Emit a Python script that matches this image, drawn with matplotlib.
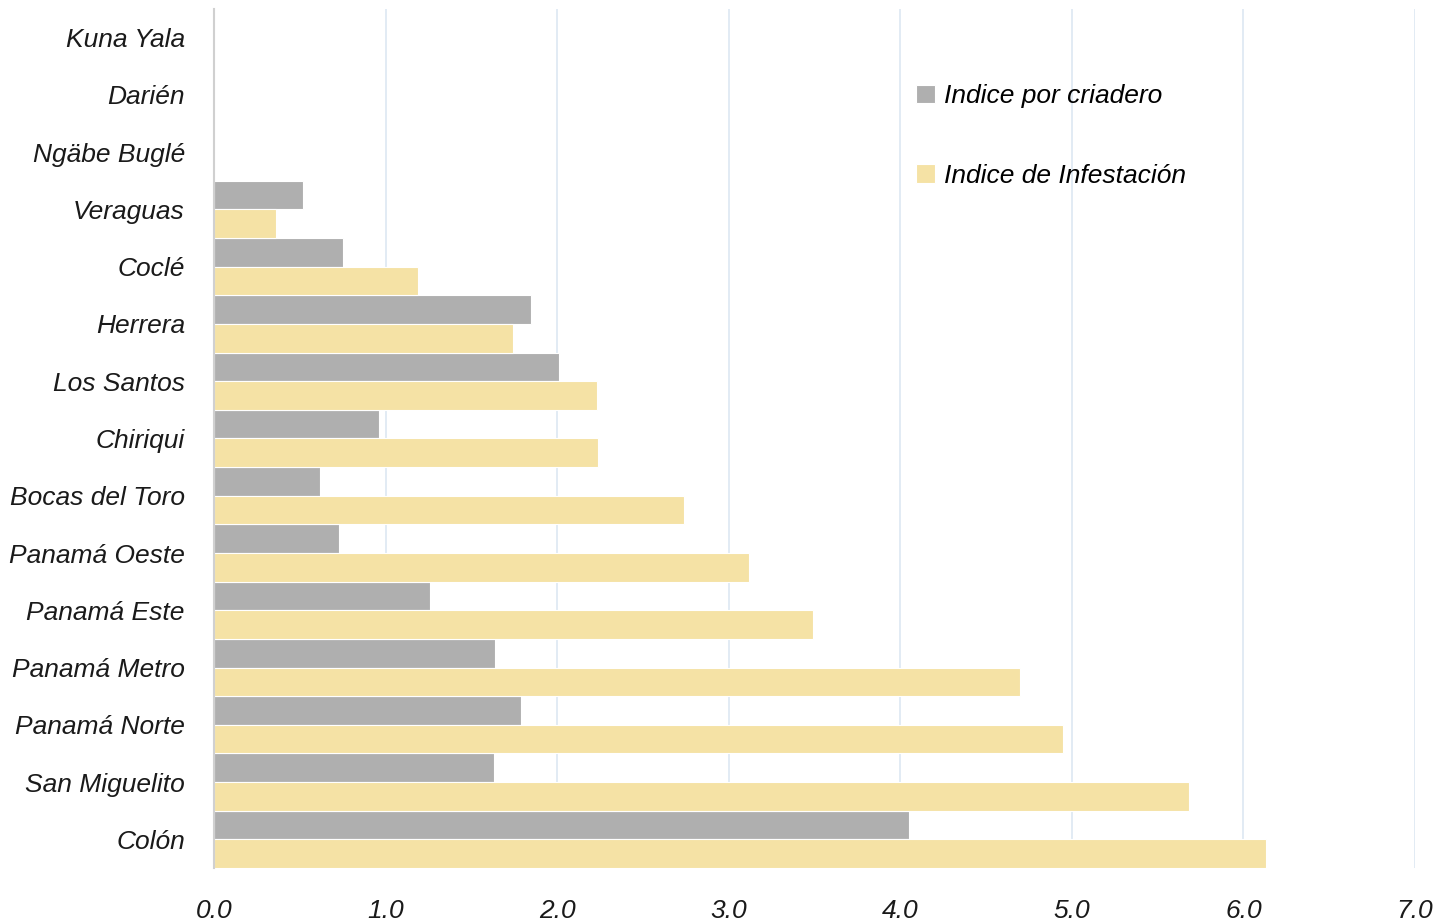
import matplotlib
matplotlib.use("Agg")
import matplotlib.pyplot as plt
from matplotlib import font_manager
import numpy as np

categories = ["Kuna Yala", "Darién", "Ngäbe Buglé", "Veraguas", "Coclé", "Herrera",
              "Los Santos", "Chiriqui", "Bocas del Toro", "Panamá Oeste", "Panamá Este",
              "Panamá Metro", "Panamá Norte", "San Miguelito", "Colón"]
indice_criadero = [0, 0, 0, 0.52, 0.75, 1.85, 2.01, 0.96, 0.62, 0.73, 1.26, 1.64, 1.79, 1.63, 4.05]
indice_infestacion = [0, 0, 0, 0.36, 1.19, 1.74, 2.23, 2.24, 2.74, 3.12, 3.49, 4.70, 4.95, 5.68, 6.13]
xticks = [0, 1, 2, 3, 4, 5, 6, 7]
series_names = ["Indice por criadero", "Indice de Infestación"]

names = {f.name for f in font_manager.fontManager.ttflist}
fam = "Liberation Sans Narrow" if "Liberation Sans Narrow" in names else "Liberation Sans"
plt.rcParams['font.family'] = [fam, 'DejaVu Sans']
plt.rcParams['font.style'] = 'italic'

FS = 19
fig = plt.figure(figsize=(14.38, 9.21), dpi=100)
ax = fig.add_axes([214/1438, 53/921, 1201/1438, 859/921])

n = len(categories)
y = np.arange(n)
h = 0.5
ax.barh(y - h/2, indice_criadero, height=h, color="#afafaf", edgecolor="white", linewidth=0.8,
        label=series_names[0], zorder=3)
ax.barh(y + h/2, indice_infestacion, height=h, color="#f5e2a5", edgecolor="white", linewidth=0.8,
        label=series_names[1], zorder=3)

ax.set_ylim(n - 0.5, -0.5)
ax.set_xlim(0, 7)
ax.set_yticks(y)
ax.set_yticklabels(categories, fontsize=FS, style='italic', color="#1a1a1a")
ax.set_xticks(xticks)
ax.set_xticklabels([f"{v:.1f}" for v in xticks], fontsize=FS, style='italic', color="#1a1a1a")
ax.tick_params(axis='both', length=0)
ax.tick_params(axis='y', pad=21)
ax.tick_params(axis='x', pad=22)
ax.grid(axis='x', color="#dde7f2", linewidth=1.2, zorder=0)
for s in ["top", "right", "bottom"]:
    ax.spines[s].set_visible(False)
ax.spines["left"].set_color("#d0d0d0")
ax.spines["left"].set_linewidth(1.5)
ax.spines["left"].set_zorder(4)

ax.legend(loc="upper left", bbox_to_anchor=(0.565, 0.94), frameon=False,
          handlelength=0.7, handleheight=0.7, handletextpad=0.35, labelspacing=2.1,
          prop={'family': [fam, 'DejaVu Sans'], 'style': 'italic', 'size': FS})

fig.savefig("out.png", dpi=100, facecolor="white")
